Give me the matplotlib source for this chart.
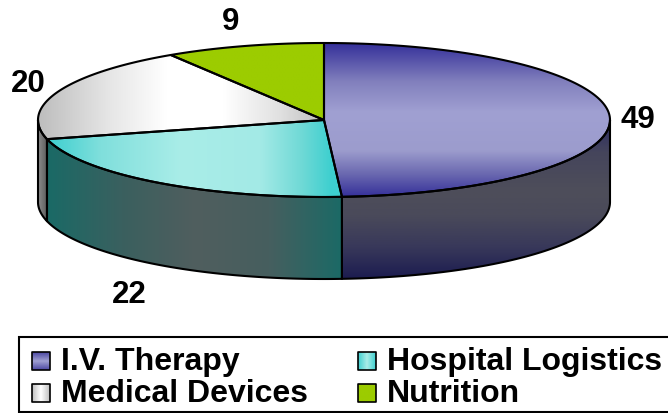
import numpy as np
import matplotlib
matplotlib.use("Agg")
import matplotlib.pyplot as plt
from matplotlib.colors import LinearSegmentedColormap
from matplotlib.patches import PathPatch, Rectangle
from matplotlib.path import Path

categories = ["I.V. Therapy", "Hospital Logistics", "Medical Devices", "Nutrition"]
values = [49, 22, 20, 9]

plt.rcParams['font.family'] = ['Liberation Sans', 'DejaVu Sans']

# pie geometry in pixels
cx, cy = 324, 120
rx, ry = 286, 77
depth = 82


def rim(theta):
    # theta in degrees, clockwise from the top of the ellipse
    t = np.radians(theta)
    return cx + rx*np.sin(t), cy - ry*np.cos(t)


def grad(ax, verts, stops, extent, vertical=False, lw=1.5):
    cmap = LinearSegmentedColormap.from_list("g", stops, N=256)
    z = np.linspace(0, 1, 256)
    z = z.reshape(-1, 1) if vertical else z.reshape(1, -1)
    im = ax.imshow(z, cmap=cmap, extent=extent, aspect='auto', origin='upper',
                   vmin=0, vmax=1, interpolation='bilinear', zorder=2)
    path = Path(np.vstack([verts, verts[0]]), closed=True)
    clip = PathPatch(path, transform=ax.transData, fc='none', ec='none')
    ax.add_patch(clip)
    im.set_clip_path(clip)
    ax.add_patch(PathPatch(path, fc='none', ec='black', lw=lw, zorder=3, joinstyle='round'))


fig = plt.figure(figsize=(6.68, 4.13), dpi=100)
ax = fig.add_axes([0, 0, 1, 1])

# gradient stops per slice
top_style = [
    ([(0, "#35309a"), (.25, "#8280bd"), (.45, "#a0a0d2"), (.7, "#9c9ccd"), (.85, "#6b69b0"), (1, "#35309a")],
     True, (cx-rx, cx+rx, 197, 43)),
    ([(0, "#3dcfcf"), (.18, "#80dfdc"), (.45, "#a9ede8"), (.72, "#a3eae6"), (.86, "#6fd9d6"), (.96, "#3dcfcf"), (1, "#3dcfcf")],
     False, (47, 344, 197, 43)),
    ([(0, "#bdbdbd"), (.25, "#e6e6e6"), (.45, "#ffffff"), (.65, "#ffffff"), (.85, "#e0e0e0"), (1, "#bdbdbd")],
     False, (38, 324, 197, 43)),
    (["#9ccc00", "#9ccc00"], False, (38, 610, 197, 43)),
]
side_style = [
    ([(0, "#2a2a62"), (.2, "#45455c"), (.45, "#4e4e5a"), (.6, "#4a4a5a"), (.8, "#38385a"), (1, "#1c1c50")],
     True, (cx-rx, cx+rx, 279, 120)),
    ([(0, "#1a6a66"), (.25, "#3a605f"), (.5, "#505e5e"), (.75, "#465f5f"), (1, "#1a6a66")],
     False, (47, 344, 279, 120)),
    (["#8c8c8c", "#5e5e5e"], False, (38, 47, 279, 120)),
    (["#777777", "#777777"], False, (38, 610, 279, 120)),
]

edges = 360*np.cumsum([0] + values)/np.sum(values)

# outer wall, only the part facing the viewer (90..270 deg)
for i in range(len(values)):
    a0 = max(edges[i], 90)
    a1 = min(edges[i+1], 270)
    if a1 <= a0:
        continue
    th = np.linspace(a0, a1, 120)
    x, y = rim(th)
    verts = np.vstack([np.column_stack([x, y]), np.column_stack([x[::-1], y[::-1]+depth])])
    stops, vert, ext = side_style[i]
    grad(ax, verts, stops, ext, vert)

# top face
for i in range(len(values)):
    th = np.linspace(edges[i], edges[i+1], 200)
    x, y = rim(th)
    verts = np.vstack([[cx, cy], np.column_stack([x, y])])
    stops, vert, ext = top_style[i]
    grad(ax, verts, stops, ext, vert)

# value labels
label_x = [638, 129, 28, 231]
label_y = [120, 295, 84, 22]
for v, lx, ly in zip(values, label_x, label_y):
    ax.text(lx, ly, str(v), fontsize=22.5, fontweight='bold', ha='center', va='center', color='black')

# legend
ax.add_patch(Rectangle((19, 337), 660, 75, fc='white', ec='black', lw=1.5, zorder=1))
leg_style = [
    ["#4a46a2", "#a0a0d2", "#4a46a2"],
    ["#3dcfcf", "#a9ede8", "#3dcfcf"],
    ["#bdbdbd", "#ffffff", "#bdbdbd"],
    ["#9ccc00", "#9ccc00"],
]
vert_leg = [True, False, False, False]
for i, name in enumerate(categories):
    sx = [32, 358][i % 2]
    sy = 352 + 32*(i//2)
    s = 18
    verts = np.array([[sx, sy], [sx+s, sy], [sx+s, sy+s], [sx, sy+s]], dtype=float)
    grad(ax, verts, leg_style[i], (sx, sx+s, sy+s, sy), vert_leg[i], lw=1.2)
    ax.text(sx+29, sy+10, name, fontsize=23, fontweight='bold',
            ha='left', va='center', color='black', zorder=4)

ax.set_xlim(0, 668)
ax.set_ylim(413, 0)
ax.axis('off')

fig.savefig("out.png", dpi=100)
